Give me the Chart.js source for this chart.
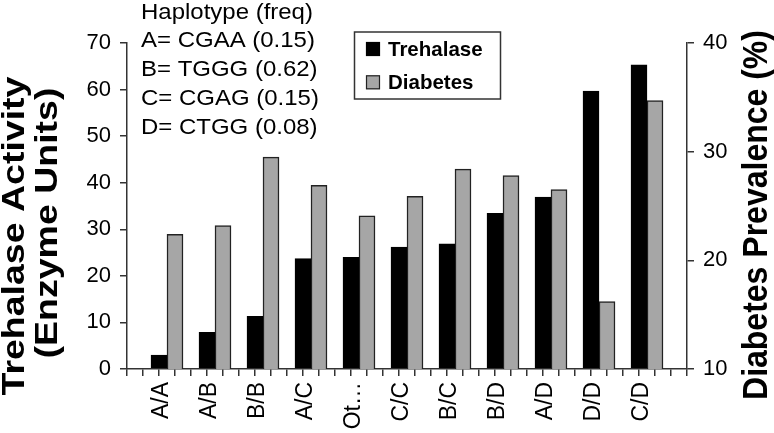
<!DOCTYPE html>
<html>
<head>
<meta charset="utf-8">
<script src="https://cdn.jsdelivr.net/npm/chart.js@4/dist/chart.umd.min.js"></script>
<style>
  html, body { margin: 0; padding: 0; background: #fff; }
</style>
</head>
<body>
<canvas id="myBarChart" width="774" height="433"></canvas>
<script>
// genotype groups along the x axis
const genotypes = ["A/A", "A/B", "B/B", "A/C", "Ot\u2026", "C/C", "B/C", "B/D", "A/D", "D/D", "C/D"];
// trehalase activity (enzyme units, left axis)
const trehalase = [3.0, 7.9, 11.3, 23.7, 24.0, 26.2, 26.9, 33.4, 36.9, 59.7, 65.3];
// diabetes prevalence (%, right axis)
const diabetes = [22.4, 23.2, 29.5, 26.9, 24.1, 25.9, 28.4, 27.8, 26.5, 16.2, 34.7];
const haplotypeNotes = ["Haplotype (freq)", "A= CGAA (0.15)", "B= TGGG (0.62)", "C= CGAG (0.15)", "D= CTGG (0.08)"];

const FONT = "'Liberation Sans', Arial, Helvetica, sans-serif";
const AXIS = "#333";

// rotated text, reads bottom to top; sy squashes glyph height
let vText = (ctx, text, baseX, centerY, size, sy) => {
  ctx.save();
  ctx.translate(baseX, centerY);
  ctx.rotate(-Math.PI / 2);
  ctx.scale(1, sy);
  ctx.font = `bold ${size}px ${FONT}`;
  ctx.textAlign = "center";
  ctx.textBaseline = "alphabetic";
  ctx.fillText(text, 0, 0);
  ctx.restore();
};

const extras = {
  id: "extras",
  afterDraw(chart) {
    const ctx = chart.ctx;
    ctx.save();
    ctx.fillStyle = "#000";

    // haplotype key
    ctx.font = `22px ${FONT}`;
    ctx.textAlign = "left";
    ctx.textBaseline = "alphabetic";
    haplotypeNotes.forEach((t, i) => {
      ctx.save();
      ctx.translate(141, 18.5 + i * 28.75);
      ctx.scale(1.09, 1);
      ctx.fillText(t, 0, 0);
      ctx.restore();
    });

    // legend box
    ctx.strokeStyle = AXIS;
    ctx.lineWidth = 1.5;
    ctx.strokeRect(354.5, 32, 146, 67);
    const ds = chart.data.datasets;
    const rows = [56, 89.3];
    ds.forEach((d, i) => {
      ctx.fillStyle = d.backgroundColor;
      ctx.fillRect(366, rows[i] - 14, 14, 14);
      ctx.strokeStyle = d.borderColor;
      ctx.lineWidth = 1.2;
      ctx.strokeRect(366.5, rows[i] - 13.5, 13, 13);
      ctx.fillStyle = "#000";
      ctx.font = `bold 20.5px ${FONT}`;
      ctx.fillText(d.label, 388, rows[i]);
    });

    // axis titles
    vText(ctx, "Trehalase Activity", 24, 236, 37.5, 0.85);
    vText(ctx, "(Enzyme Units)", 57, 223, 37.5, 0.85);
    vText(ctx, "Diabetes Prevalence (%)", 767, 215, 32, 1.08);
    ctx.restore();
  }
};

const ctx = document.getElementById("myBarChart");

const dataset = {
  datasets: [
    {
      label: "Trehalase",
      data: trehalase.map((v, i) => ({ x: i, y: v })),
      backgroundColor: "#000",
      borderColor: "#000",
      borderWidth: 1,
      yAxisID: "y",
    },
    {
      label: "Diabetes",
      data: diabetes.map((v, i) => ({ x: i, y: v })),
      backgroundColor: "#a6a6a6",
      borderColor: "#222",
      borderWidth: 1.5,
      yAxisID: "y1",
    },
  ],
};

const config = {
  type: "bar",
  data: dataset,
  options: {
    responsive: false,
    animation: false,
    devicePixelRatio: 1,
    barThickness: "flex",
    categoryPercentage: 2 / 3,
    barPercentage: 1,
    layout: { padding: { top: 43, left: 0, right: 0, bottom: 0 } },
    plugins: { legend: { display: false }, tooltip: { enabled: false } },
    scales: {
      x: {
        type: "linear",
        min: -2 / 3,
        max: genotypes.length - 1 / 3,
        afterBuildTicks: (axis) => {
          // one tick mark at every bar edge, labels only at group centres
          const ticks = [];
          for (let k = 0; k <= genotypes.length * 3 + 1; k++) ticks.push({ value: -2 / 3 + k / 3 });
          axis.ticks = ticks;
        },
        afterFit: (scale) => { scale.height = 64; },
        ticks: {
          autoSkip: false,
          minRotation: 90,
          maxRotation: 90,
          padding: 6,
          labelOffset: -5,
          color: "#000",
          font: { family: FONT, size: 23 },
          callback: (v) => {
            const r = Math.round(v);
            return Math.abs(v - r) < 1e-6 ? genotypes[r] : "";
          },
        },
        grid: { drawOnChartArea: false, tickLength: 7, color: AXIS, lineWidth: 1.5 },
        border: { color: AXIS, width: 1.5 },
      },
      y: {
        position: "left",
        min: 0,
        max: 70,
        afterFit: (scale) => { scale.width = 127; },
        ticks: { stepSize: 10, padding: 9, color: "#000", font: { family: FONT, size: 22 } },
        grid: { drawOnChartArea: false, tickLength: 7, color: AXIS, lineWidth: 1.5 },
        border: { color: AXIS, width: 1.5 },
      },
      y1: {
        position: "right",
        min: 10,
        max: 40,
        afterFit: (scale) => { scale.width = 87; },
        ticks: { stepSize: 10, padding: 9, color: "#000", font: { family: FONT, size: 22 } },
        grid: { drawOnChartArea: false, tickLength: 7, color: AXIS, lineWidth: 1.5 },
        border: { color: AXIS, width: 1.5 },
      },
    },
  },
  plugins: [extras],
};

const chart = new Chart(ctx, config);
</script>
</body>
</html>
